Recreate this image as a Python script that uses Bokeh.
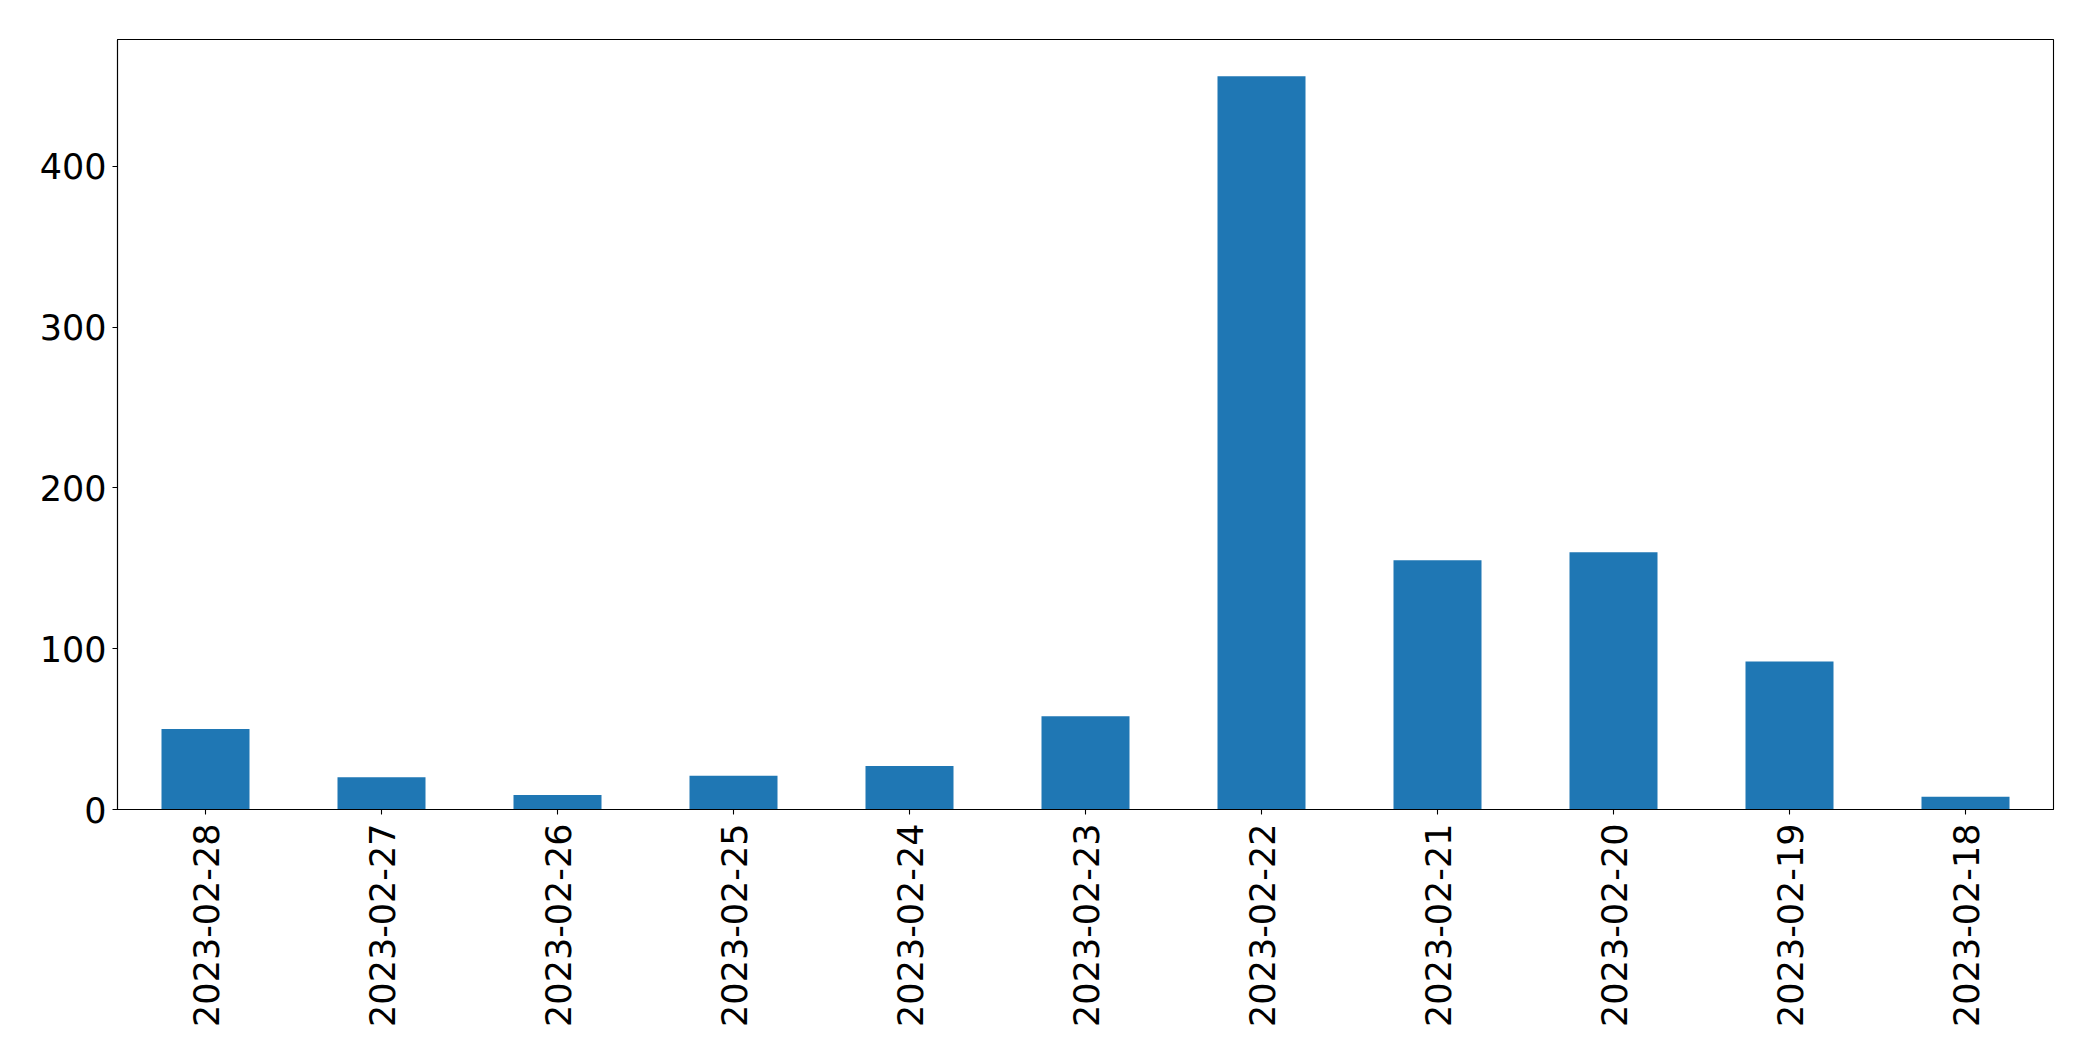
import math
from bokeh.plotting import figure
from bokeh.models import FactorRange, Range1d, FixedTicker, ColumnDataSource
from bokeh.embed import file_html
from bokeh.resources import INLINE

dates = ["2023-02-28", "2023-02-27", "2023-02-26", "2023-02-25", "2023-02-24",
         "2023-02-23", "2023-02-22", "2023-02-21", "2023-02-20", "2023-02-19",
         "2023-02-18"]
counts = [50, 20, 9, 21, 27, 58, 456, 155, 160, 92, 8]
y_ticks = [0, 100, 200, 300, 400]

src = ColumnDataSource(data=dict(date=dates, count=counts))

p = figure(
    width=2077, height=1045,
    x_range=FactorRange(factors=dates, range_padding=0),
    y_range=Range1d(0, max(counts) * 1.05),
    output_backend="svg", toolbar_location=None,
    min_border_left=117, min_border_right=24,
    min_border_top=39, min_border_bottom=236,
)
p.vbar(x="date", top="count", width=0.5, source=src,
       fill_color="#1f77b4", line_color=None)

p.xgrid.grid_line_color = None
p.ygrid.grid_line_color = None
p.outline_line_color = "black"
p.outline_line_width = 1.1
p.background_fill_color = "white"
p.border_fill_color = "white"

for ax in (p.xaxis[0], p.yaxis[0]):
    ax.axis_line_color = "black"
    ax.axis_line_width = 1.1
    ax.major_tick_line_color = "black"
    ax.major_tick_line_width = 1.1
    ax.major_tick_in = 0
    ax.major_tick_out = 5
    ax.minor_tick_line_color = None
    ax.major_label_text_font = "DejaVu Sans"
    ax.major_label_text_font_size = "35px"
    ax.major_label_text_color = "black"

p.yaxis[0].major_label_standoff = 6
p.xaxis[0].major_label_standoff = 9
p.yaxis[0].ticker = FixedTicker(ticks=y_ticks)
p.xaxis[0].major_label_orientation = math.pi / 2
p.xaxis[0].group_text_font_size = "0px"

open("out.html", "w").write(file_html(p, INLINE))
